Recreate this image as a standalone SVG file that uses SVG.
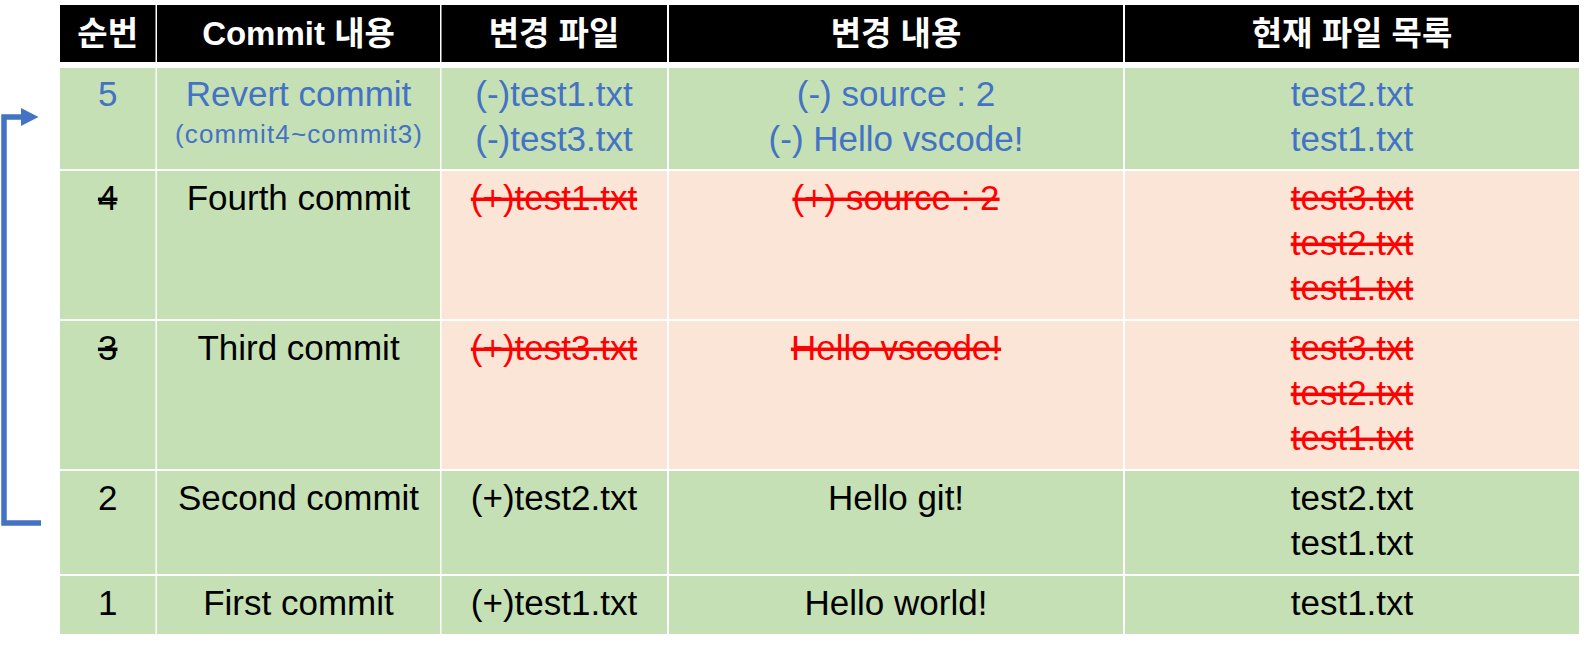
<svg xmlns="http://www.w3.org/2000/svg" width="1584" height="650" viewBox="0 0 1584 650">
<style>
.hd{fill:#000000}
.gr{fill:#C5E0B4}
.pk{fill:#FBE5D6}
.ht{font-family:"Liberation Sans","Noto Sans CJK KR",sans-serif;font-weight:bold;font-size:33px;fill:#FFFFFF;text-anchor:middle}
.t{font-family:"Liberation Sans","Noto Sans CJK KR",sans-serif;font-size:35px;fill:#000000;text-anchor:middle}
.b{fill:#4472C4}
.r{fill:#FF0000}
.s{text-decoration:line-through}
.sm{font-size:26px}
.conn{fill:none;stroke:#4472C4;stroke-width:5.5;stroke-linejoin:miter}
</style>
<rect width="1584" height="650" fill="#FFFFFF"/>
<g id="header">
  <g id="h-num"><rect class="hd" x="60" y="5" width="95.5" height="57"/><text class="ht" x="107.7" y="45">순번</text></g>
  <g id="h-commit"><rect class="hd" x="157" y="5" width="283" height="57"/><text class="ht" x="298.5" y="45">Commit 내용</text></g>
  <g id="h-files"><rect class="hd" x="441.5" y="5" width="225.5" height="57"/><text class="ht" x="554" y="45">변경 파일</text></g>
  <g id="h-changes"><rect class="hd" x="669" y="5" width="454" height="57"/><text class="ht" x="896" y="45">변경 내용</text></g>
  <g id="h-list"><rect class="hd" x="1125" y="5" width="454" height="57"/><text class="ht" x="1352" y="45">현재 파일 목록</text></g>
</g>
<g id="row5">
  <g id="r5-num"><rect class="gr" x="60" y="68" width="95.5" height="101"/><text class="t b" x="107.7" y="106">5</text></g>
  <g id="r5-commit"><rect class="gr" x="157" y="68" width="283" height="101"/><text class="t b" x="298.5" y="106">Revert commit</text><text class="t b sm" x="298.5" y="143" textLength="247" lengthAdjust="spacing">(commit4~commit3)</text></g>
  <g id="r5-files"><rect class="gr" x="441.5" y="68" width="225.5" height="101"/><text class="t b" x="554" y="106">(-)test1.txt</text><text class="t b" x="554" y="151">(-)test3.txt</text></g>
  <g id="r5-changes"><rect class="gr" x="669" y="68" width="454" height="101"/><text class="t b" x="896" y="106">(-) source : 2</text><text class="t b" x="896" y="151">(-) Hello vscode!</text></g>
  <g id="r5-list"><rect class="gr" x="1125" y="68" width="454" height="101"/><text class="t b" x="1352" y="106">test2.txt</text><text class="t b" x="1352" y="151">test1.txt</text></g>
</g>
<g id="row4">
  <g id="r4-num"><rect class="gr" x="60" y="171" width="95.5" height="148"/><text class="t s" x="107.7" y="210">4</text></g>
  <g id="r4-commit"><rect class="gr" x="157" y="171" width="283" height="148"/><text class="t" x="298.5" y="210">Fourth commit</text></g>
  <g id="r4-files"><rect class="pk" x="441.5" y="171" width="225.5" height="148"/><text class="t r s" x="554" y="210">(+)test1.txt</text></g>
  <g id="r4-changes"><rect class="pk" x="669" y="171" width="454" height="148"/><text class="t r s" x="896" y="210">(+) source : 2</text></g>
  <g id="r4-list"><rect class="pk" x="1125" y="171" width="454" height="148"/><text class="t r s" x="1352" y="210">test3.txt</text><text class="t r s" x="1352" y="255">test2.txt</text><text class="t r s" x="1352" y="300">test1.txt</text></g>
</g>
<g id="row3">
  <g id="r3-num"><rect class="gr" x="60" y="321" width="95.5" height="148"/><text class="t s" x="107.7" y="360">3</text></g>
  <g id="r3-commit"><rect class="gr" x="157" y="321" width="283" height="148"/><text class="t" x="298.5" y="360">Third commit</text></g>
  <g id="r3-files"><rect class="pk" x="441.5" y="321" width="225.5" height="148"/><text class="t r s" x="554" y="360">(+)test3.txt</text></g>
  <g id="r3-changes"><rect class="pk" x="669" y="321" width="454" height="148"/><text class="t r s" x="896" y="360">Hello vscode!</text></g>
  <g id="r3-list"><rect class="pk" x="1125" y="321" width="454" height="148"/><text class="t r s" x="1352" y="360">test3.txt</text><text class="t r s" x="1352" y="405">test2.txt</text><text class="t r s" x="1352" y="450">test1.txt</text></g>
</g>
<g id="row2">
  <g id="r2-num"><rect class="gr" x="60" y="471" width="95.5" height="103"/><text class="t" x="107.7" y="510">2</text></g>
  <g id="r2-commit"><rect class="gr" x="157" y="471" width="283" height="103"/><text class="t" x="298.5" y="510">Second commit</text></g>
  <g id="r2-files"><rect class="gr" x="441.5" y="471" width="225.5" height="103"/><text class="t" x="554" y="510">(+)test2.txt</text></g>
  <g id="r2-changes"><rect class="gr" x="669" y="471" width="454" height="103"/><text class="t" x="896" y="510">Hello git!</text></g>
  <g id="r2-list"><rect class="gr" x="1125" y="471" width="454" height="103"/><text class="t" x="1352" y="510">test2.txt</text><text class="t" x="1352" y="555">test1.txt</text></g>
</g>
<g id="row1">
  <g id="r1-num"><rect class="gr" x="60" y="576" width="95.5" height="58"/><text class="t" x="107.7" y="615">1</text></g>
  <g id="r1-commit"><rect class="gr" x="157" y="576" width="283" height="58"/><text class="t" x="298.5" y="615">First commit</text></g>
  <g id="r1-files"><rect class="gr" x="441.5" y="576" width="225.5" height="58"/><text class="t" x="554" y="615">(+)test1.txt</text></g>
  <g id="r1-changes"><rect class="gr" x="669" y="576" width="454" height="58"/><text class="t" x="896" y="615">Hello world!</text></g>
  <g id="r1-list"><rect class="gr" x="1125" y="576" width="454" height="58"/><text class="t" x="1352" y="615">test1.txt</text></g>
</g>
<g id="connectors">
  <path class="conn" d="M41,523 H4 V117 H22"/>
  <polygon points="21,108 38.5,117 21,126" fill="#4472C4"/>
</g>
</svg>
